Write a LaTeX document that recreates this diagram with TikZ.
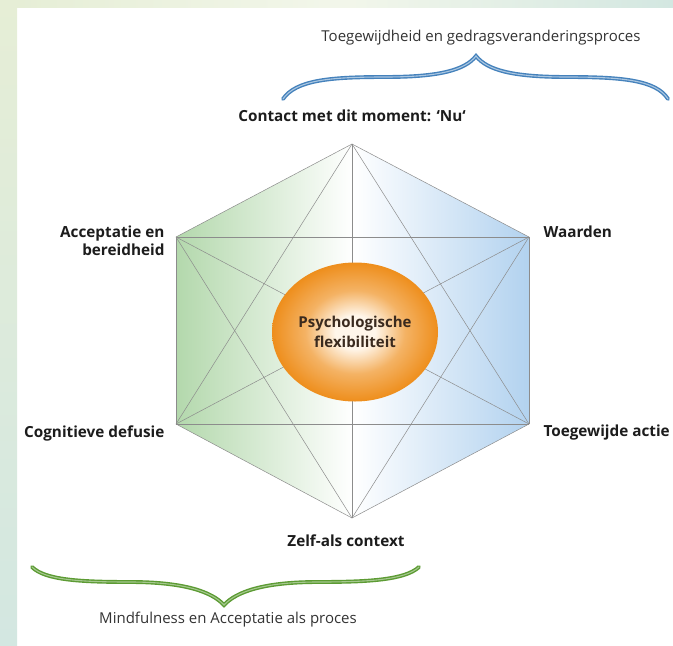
\documentclass[tikz,border=0pt]{standalone}
\usepackage{fontspec}
\setmainfont{Open Sans}
\usetikzlibrary{shapes.geometric}

\definecolor{hexgreen}{HTML}{B3D8AC}
\definecolor{hexblue}{HTML}{B2D2EF}
\definecolor{ballin}{HTML}{FFF6EA}
\definecolor{ballout}{HTML}{EE8E1C}
\definecolor{bracegreen}{HTML}{5C9B33}
\definecolor{braceblue}{HTML}{4582BC}
\definecolor{edgegray}{HTML}{8C8C8C}
\definecolor{labelink}{HTML}{1C1C1C}
\definecolor{ballink}{HTML}{3A2A1E}
\definecolor{framegreen}{HTML}{E6EED6}
\definecolor{frameteal}{HTML}{D3E7E1}

\pgfdeclareradialshading{flexball}{\pgfpoint{0bp}{0bp}}{color(0bp)=(ballin); color(6bp)=(ballin); color(15bp)=(ballout!65!ballin); color(25bp)=(ballout); color(50bp)=(ballout)}

\tikzset{
	corner/.style={font=\bfseries\fontsize{15.3}{18.5}\selectfont, text=labelink},
	process/.style={font=\fontsize{15}{17}\selectfont, text=black!80},
	hexline/.style={draw=edgegray, line width=0.5pt},
	brace/.style={line width=1.4pt, double distance=1.1pt, line cap=round},
}

\begin{document}
\begin{tikzpicture}[x=1pt,y=-1pt]
		
		\useasboundingbox (0,0) rectangle (673,646);
		
		% pale frame at the left and top
		\shade[top color=framegreen, bottom color=frameteal] (0,0) rectangle (17,646);
		\shade[left color=framegreen, right color=frameteal, middle color=framegreen!50!white] (17,0) rectangle (673,7);
		
		% corners of the hexagon
		\coordinate (top) at (352,144);
		\coordinate (ur) at (529,237);
		\coordinate (lr) at (529,424);
		\coordinate (bot) at (352,518);
		\coordinate (ll) at (176,424);
		\coordinate (ul) at (176,237);
		
		% shaded hexagon
		\shade[left color=hexgreen, right color=hexblue, middle color=white]
		(top) -- (ur) -- (lr) -- (bot) -- (ll) -- (ul) -- cycle;
		
		% every corner joined to every other one
		\foreach \a/\b in {top/ur, top/lr, top/bot, top/ll, top/ul, ur/lr, ur/bot, ur/ll, ur/ul, lr/bot, lr/ll, lr/ul, bot/ll, bot/ul, ll/ul}
		\draw[hexline] (\a) -- (\b);
		
		% centre
		\node[ellipse, minimum width=166pt, minimum height=139pt, inner sep=0pt, shade, shading=flexball,
		align=center, font=\bfseries\fontsize{15}{20}\selectfont, text=ballink] (flex) at (355,332) {Psychologische\\flexibiliteit};
		
		% labels at the corners
		\node[corner] (contact) at (352,116) {Contact met dit moment: `Nu`};
		\node[corner, anchor=east, align=right] (accept) at (168,241) {Acceptatie en\\bereidheid};
		\node[corner, anchor=west] (values) at (540,232) {Waarden};
		\node[corner, anchor=east] (defusion) at (168,433) {Cognitieve defusie};
		\node[corner, anchor=west] (action) at (540,433) {Toegewijde actie};
		\node[corner] (self) at (346,541) {Zelf-als context};
		
		% upper brace
		\draw[brace, draw=braceblue, double=braceblue!45!white]
		(283,99) .. controls (296,80) and (330,77) .. (385,77) .. controls (440,77) and (465,70) .. (476,56)
		.. controls (487,70) and (512,77) .. (567,77) .. controls (622,77) and (656,80) .. (668,99);
		\node[process] (commit) at (481,38) {Toegewijdheid en gedragsveranderingsproces};
		
		% lower brace
		\draw[brace, draw=bracegreen, double=bracegreen!55!white]
		(32,567) .. controls (45,580) and (80,582) .. (130,582) .. controls (185,582) and (212,592) .. (224,605)
		.. controls (236,592) and (263,582) .. (318,582) .. controls (368,582) and (405,580) .. (419,567);
		\node[process] (mindful) at (228,620) {Mindfulness en Acceptatie als proces};
		
	\end{tikzpicture}
\end{document}
